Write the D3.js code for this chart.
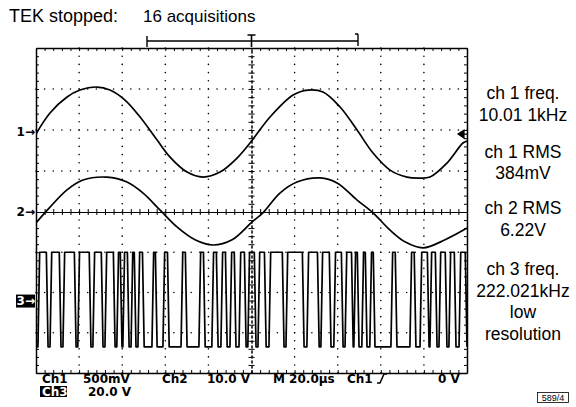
<!DOCTYPE html>
<html>
<head>
<meta charset="utf-8">
<script src="https://cdn.jsdelivr.net/npm/d3@7"></script>
<style>
  body { margin: 0; background: #fff; }
  svg { display: block; }
</style>
</head>
<body>
<svg id="drawing_region"></svg>
<script>

// time in µs, trigger at 0 (screen centre)
// ch1 in mV
const ch1Trace = [
    [-100, -24], [-93.5, 232], [-85.6, 427], [-79.6, 512], [-71.7, 549], [-65.7, 512],
    [-58.7, 390], [-51.7, 183], [-43.8, -98], [-37.8, -305], [-29.9, -488], [-22.5, -549],
    [-14.6, -488], [-6.7, -317], [0, -110], [8.6, 183], [19.3, 451], [26.2, 512],
    [33.2, 488], [41.1, 305], [49.0, 24], [56.4, -256], [64.3, -464], [72.2, -549],
    [77.3, -561], [82.8, -549], [90.7, -378], [98.1, -134], [100, -110]
];

// ch2 in V
const ch2Trace = [
    [-100, -2.7], [-93.5, 1.2], [-85.6, 5.4], [-78.2, 7.8], [-67.1, 8.5], [-57.8, 7.3],
    [-50.3, 4.6], [-42.5, 0.5], [-34.6, -3.7], [-26.2, -6.9], [-17.9, -8.2], [-9.0, -6.9],
    [0.2, -2.5], [5.3, -0.2], [13.2, 4.6], [21.1, 7.3], [31.8, 8.3], [39.7, 7.1],
    [49.0, 2.9], [56.4, -0.2], [64.3, -4.5], [71.2, -7.4], [79.6, -8.9], [89.8, -6.9],
    [100, -4.0]
];

// ch3: intervals (µs) where the trace sits at the high level
const ch3Highs = [
    [-98.6, -94.9], [-93.0, -88.9], [-87.0, -81.9], [-80.1, -75.0], [-73.1, -69.4],
    [-67.5, -63.8], [-62.0, -60.6], [-59.2, -57.3], [-55.4, -54.1], [-52.2, -50.3],
    [-45.7, -44.3], [-40.6, -38.7], [-32.2, -30.4], [-23.9, -22.0], [-17.9, -16.0],
    [-13.7, -11.8], [-9.5, -7.7], [-5.3, -3.0], [-1.2, 1.6], [3.5, 6.3],
    [8.6, 14.6], [16.5, 23.9], [26.2, 30.9], [32.7, 36.4], [38.7, 42.0],
    [43.9, 46.7], [48.0, 49.4], [51.7, 53.1], [55.4, 56.8], [65.2, 67.0],
    [74.0, 75.8], [78.7, 81.9], [83.3, 85.6], [87.5, 90.2], [92.1, 94.4], [96.8, 99.5]
];
const ch3High = 24;   // V
const ch3Low = -23;   // V

// channel settings: volts per division and ground position (div)
const ch1PerDiv = 500, ch1Ground = 1.95;
const ch2PerDiv = 10, ch2Ground = 0;
const ch3PerDiv = 20, ch3Ground = -2.2;

const readouts = [
    ['ch 1 freq.', '10.01 1kHz'],
    ['ch 1 RMS', '384mV'],
    ['ch 2 RMS', '6.22V'],
    ['ch 3 freq.', '222.021kHz', 'low', 'resolution']
];

const W = 576, H = 407;

const svg = d3.select('#drawing_region')
    .attr('width', W)
    .attr('height', H)
    .style('font-family', 'Liberation Sans, Arial, sans-serif');

svg.append('rect').attr('width', W).attr('height', H).attr('fill', '#fff');

// graticule scales (divisions vertically, µs horizontally)
const x = d3.scaleLinear().domain([-100, 100]).range([36, 467]);
const y = d3.scaleLinear().domain([-4, 0, 4]).range([373, 212, 48]);

const ch1Y = d3.scaleLinear().domain([0, ch1PerDiv]).range([y(ch1Ground), y(ch1Ground + 1)]);
const ch2Y = v => y(ch2Ground + v / ch2PerDiv);
const ch3Y = d3.scaleLinear().domain([0, ch3PerDiv]).range([y(ch3Ground), y(ch3Ground + 1)]);

const minorX = d3.range(-25, 26).map(d => d * 4);
const minorY = d3.range(-20, 21).map(d => d / 5);
const majorX = d3.range(-4, 5).map(d => d * 20).filter(d => d !== 0);
const majorY = d3.range(-3, 4).filter(d => d !== 0);

// dotted grid
const grid = svg.append('g').attr('fill', '#000');
majorX.forEach(t => {
    grid.selectAll(null).data(minorY).enter().append('circle')
        .attr('cx', x(t)).attr('cy', d => y(d)).attr('r', 0.8);
});
majorY.forEach(v => {
    grid.selectAll(null).data(minorX).enter().append('circle')
        .attr('cx', d => x(d)).attr('cy', y(v)).attr('r', 0.8);
});

function styleAxis(g, w) {
    g.select('.domain').attr('stroke', '#000').attr('stroke-width', w);
    g.selectAll('.tick line').attr('stroke', '#000').attr('stroke-width', 1);
    g.selectAll('.tick text').remove();
    return g;
}

// border with inward ticks
svg.append('g').attr('transform', `translate(0,${y(4)})`)
    .call(d3.axisTop(x).tickValues(minorX).tickSizeInner(-3).tickSizeOuter(0))
    .call(g => styleAxis(g, 1.5));
svg.append('g').attr('transform', `translate(0,${y(-4)})`)
    .call(d3.axisBottom(x).tickValues(minorX).tickSizeInner(-3).tickSizeOuter(0))
    .call(g => styleAxis(g, 1.5));
svg.append('g').attr('transform', `translate(${x(-100)},0)`)
    .call(d3.axisLeft(y).tickValues(minorY).tickSizeInner(-3).tickSizeOuter(0))
    .call(g => styleAxis(g, 1.5));
svg.append('g').attr('transform', `translate(${x(100)},0)`)
    .call(d3.axisRight(y).tickValues(minorY).tickSizeInner(-3).tickSizeOuter(0))
    .call(g => styleAxis(g, 1.5));

// centre cross with ticks on both sides
[d3.axisTop, d3.axisBottom].forEach(ax => {
    svg.append('g').attr('transform', `translate(0,${y(0)})`)
        .call(ax(x).tickValues(minorX).tickSizeInner(3).tickSizeOuter(0))
        .call(g => styleAxis(g, 1));
});
[d3.axisLeft, d3.axisRight].forEach(ax => {
    svg.append('g').attr('transform', `translate(${x(0)},0)`)
        .call(ax(y).tickValues(minorY).tickSizeInner(3).tickSizeOuter(0))
        .call(g => styleAxis(g, 1).select('.domain').attr('stroke-dasharray', '3,2'));
});

// traces
svg.append('clipPath').attr('id', 'screen')
    .append('rect')
    .attr('x', x(-100)).attr('y', y(4))
    .attr('width', x(100) - x(-100)).attr('height', y(-4) - y(4));

const traces = svg.append('g').attr('clip-path', 'url(#screen)')
    .attr('fill', 'none').attr('stroke', '#000').attr('stroke-linejoin', 'round');

const sineLine = (fy) => d3.line()
    .x(d => x(d[0]))
    .y(d => fy(d[1]))
    .curve(d3.curveCatmullRom.alpha(0.5));

traces.append('path').attr('d', sineLine(ch1Y)(ch1Trace)).attr('stroke-width', 1.7);
traces.append('path').attr('d', sineLine(ch2Y)(ch2Trace)).attr('stroke-width', 1.7);

const ch3Points = [[-100, ch3Low]];
ch3Highs.forEach(([a, b]) => {
    ch3Points.push([a - 0.5, ch3Low], [a + 0.3, ch3High], [b - 0.3, ch3High], [b + 0.5, ch3Low]);
});
ch3Points.push([100, ch3Low]);

traces.append('path')
    .attr('d', d3.line().x(d => x(d[0])).y(d => ch3Y(d[1]))(ch3Points))
    .attr('stroke-width', 1.7);

// ground markers on the left
const markers = svg.append('g')
    .style('font-family', 'DejaVu Sans, sans-serif')
    .style('font-weight', 'bold')
    .style('font-size', '12px');

markers.append('text').attr('x', 35).attr('y', ch1Y(0) + 4).attr('text-anchor', 'end').text('1→');
markers.append('text').attr('x', 35).attr('y', ch2Y(0) + 4).attr('text-anchor', 'end').text('2→');
markers.append('rect').attr('x', 16).attr('y', ch3Y(0) - 6).attr('width', 19).attr('height', 13).attr('fill', '#000');
markers.append('text').attr('x', 35).attr('y', ch3Y(0) + 4.5).attr('text-anchor', 'end')
    .attr('fill', '#fff').text('3→');

// trigger level marker on the right
svg.append('path')
    .attr('d', `M${x(100) - 9},${ch1Y(0) + 2} l6,-4 v8 z M${x(100) - 4},${ch1Y(0) + 2} h4`)
    .attr('fill', '#000').attr('stroke', '#000').attr('stroke-width', 1.2);

// record bar at the top
const bar = svg.append('g').attr('stroke', '#000').attr('fill', 'none');
bar.append('path').attr('d', 'M147,36 v11 M147,41 H358 M358,34 v12 M355,34 h3')
    .attr('stroke-width', 1.4);
bar.append('path').attr('d', `M${x(0) - 4},35 h8 M${x(0)},35 V47`).attr('stroke-width', 1.6);

// title
svg.append('text').attr('x', 9).attr('y', 22).style('font-size', '18px').text('TEK stopped:');
svg.append('text').attr('x', 143).attr('y', 22).style('font-size', '17px').text('16 acquisitions');

// readouts on the right
const lineY = [[99, 121], [158, 179], [214, 236], [275, 297, 318, 340]];
const ro = svg.append('g').attr('text-anchor', 'middle').style('font-size', '17.5px');
readouts.forEach((lines, i) => {
    lines.forEach((t, j) => {
        ro.append('text').attr('x', 523).attr('y', lineY[i][j]).text(t);
    });
});

// scope settings along the bottom
const bottom = svg.append('g')
    .style('font-family', 'DejaVu Sans, sans-serif')
    .style('font-weight', 'bold')
    .style('font-size', '12px');
const row1 = [['Ch1', 42], ['500mV', 83], ['Ch2', 162], ['10.0 V', 207], ['M 20.0µs', 273], ['Ch1', 347], ['0 V', 438]];
row1.forEach(([t, px]) => bottom.append('text').attr('x', px).attr('y', 383).text(t));
bottom.append('path').attr('d', 'M377,383 h3 l4,-9 h3').attr('fill', 'none').attr('stroke', '#000').attr('stroke-width', 1.5);
bottom.append('rect').attr('x', 40).attr('y', 386).attr('width', 27).attr('height', 11).attr('fill', '#000');
bottom.append('text').attr('x', 42).attr('y', 396).attr('fill', '#fff').text('Ch3');
bottom.append('text').attr('x', 88).attr('y', 396).text('20.0 V');

// figure tag
svg.append('rect').attr('x', 537.5).attr('y', 392.5).attr('width', 31).attr('height', 10)
    .attr('fill', 'none').attr('stroke', '#000').attr('stroke-width', 0.8);
svg.append('text').attr('x', 553).attr('y', 401).attr('text-anchor', 'middle')
    .style('font-size', '9px').text('589/4');

</script>
</body>
</html>
